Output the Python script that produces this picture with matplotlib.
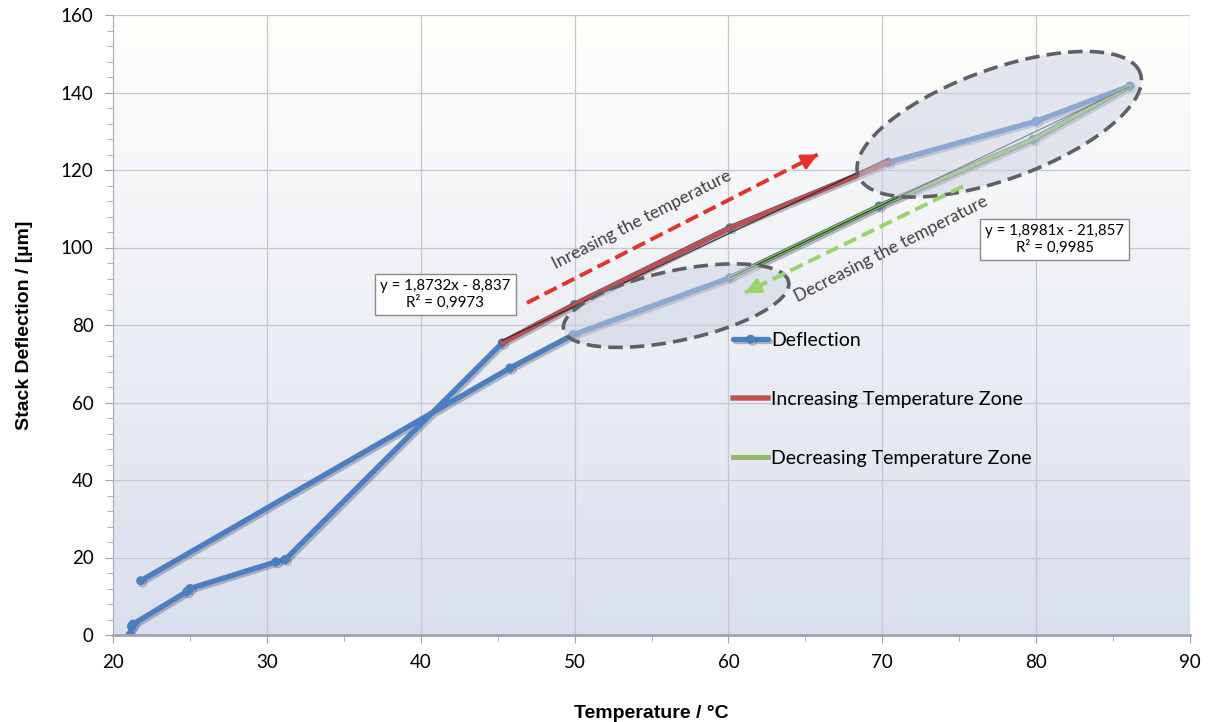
import numpy as np
import matplotlib
matplotlib.use("Agg")
import matplotlib.pyplot as plt
import matplotlib.patheffects as pe
from matplotlib.ticker import MultipleLocator

# ---------------- data ----------------
temp = [21.1, 21.2, 21.3, 24.8, 25.0, 30.6, 31.2, 45.3, 50.0, 60.1, 70.4,
        80.0, 86.1, 79.8, 69.8, 60.1, 49.9, 45.8, 21.8]
defl = [0.0, 2.2, 2.8, 11.2, 12.0, 18.9, 19.5, 75.4, 85.3, 105.1, 122.0,
        132.6, 141.7, 127.9, 110.7, 92.2, 77.5, 68.9, 14.0]

temp_inc = [45.3, 50.0, 60.1, 70.4]
defl_inc = [75.4, 85.3, 105.1, 122.0]
temp_dec = [86.1, 79.8, 69.8, 60.1]
defl_dec = [141.7, 127.9, 110.7, 92.2]

fit_inc = (1.8732, -8.837)
fit_dec = (1.8981, -21.857)
eq_inc = "y = 1,8732x - 8,837\nR² = 0,9973"
eq_dec = "y = 1,8981x - 21,857\nR² = 0,9985"

labels = ["Deflection", "Increasing Temperature Zone", "Decreasing Temperature Zone"]
xticks = [20, 30, 40, 50, 60, 70, 80, 90]
yticks = [0, 20, 40, 60, 80, 100, 120, 140, 160]

# ---------------- figure ----------------
fig = plt.figure(figsize=(12.1, 7.22), dpi=100)
ax = fig.add_axes([113/1210, 1-635/722, (1190-113)/1210, (635-15)/722])
ax.set_xlim(20, 90)
ax.set_ylim(0, 160)

# gradient background
grad = np.linspace(0, 1, 256).reshape(-1, 1)
c_top = np.array([1.0, 1.0, 0.985])
c_bot = np.array([0.855, 0.875, 0.935])
img = c_top[None, None, :] * (1 - grad[..., None]) + c_bot[None, None, :] * grad[..., None]
ax.imshow(img, extent=[0, 1, 0, 1], transform=ax.transAxes, aspect='auto', zorder=0)

ax.set_xticks(xticks)
ax.set_yticks(yticks)
ax.xaxis.set_minor_locator(MultipleLocator(5))
ax.yaxis.set_minor_locator(MultipleLocator(4))
ax.grid(True, which='major', color='#c4c6d0', lw=0.9, zorder=0.5)
ax.set_axisbelow(True)
for s in ['top', 'right']:
    ax.spines[s].set_visible(False)
ax.spines['left'].set_color('#a8aab8')
ax.spines['bottom'].set_color('#a0a3b3')
ax.spines['bottom'].set_linewidth(2)
ax.tick_params(which='both', direction='out', colors='#a0a3b3', labelcolor='black',
               labelsize=13.5)
ax.tick_params(which='major', length=6)
ax.tick_params(which='minor', length=4)
for lab in ax.get_xticklabels() + ax.get_yticklabels():
    lab.set_fontfamily('Lato')
ax.tick_params(axis='x', pad=8)
ax.tick_params(axis='y', pad=8)

ax.set_xlabel("Temperature / °C", fontsize=14, fontweight='bold',
              family='Liberation Sans', labelpad=24)
ax.set_ylabel("Stack Deflection / [µm]", fontsize=14, fontweight='bold',
              family='Liberation Sans', labelpad=20)

# ---------------- series ----------------
blue = '#4a7fc1'
shadow = [pe.SimpleLineShadow(offset=(1.5, -1.5), shadow_color='#303040', alpha=0.3), pe.Normal()]
ax.plot(temp, defl, color=blue, lw=3.8, marker='o', ms=5.5, mec=blue, mfc=blue,
        solid_capstyle='round', zorder=2, path_effects=shadow, label=labels[0])
ax.plot(temp_inc, defl_inc, color='#c0504d', lw=3.2, zorder=3, label=labels[1],
        path_effects=[pe.Stroke(linewidth=4, foreground='#7a2a2a', alpha=0.5), pe.Normal()])
ax.plot(temp_dec, defl_dec, color='#8fbf58', lw=2.6, zorder=3, label=labels[2],
        path_effects=[pe.Stroke(linewidth=3.4, foreground='#3d5a20', alpha=0.5), pe.Normal()])

xi = np.array([min(temp_inc), max(temp_inc)])
ax.plot(xi, fit_inc[0]*xi + fit_inc[1], color='#202020', lw=0.9, alpha=0.8, zorder=3.5)
xd = np.array([min(temp_dec), max(temp_dec)])
ax.plot(xd, fit_dec[0]*xd + fit_dec[1], color='#202020', lw=0.9, alpha=0.8, zorder=3.5)

# ---------------- ellipses (defined in pixel units) ----------------
p0 = ax.transData.transform((20, 0))
p1 = ax.transData.transform((90, 160))
sx = (p1[0]-p0[0]) / 70.0
sy = (p1[1]-p0[1]) / 160.0

def ellipse(cx, cy, a_px, b_px, ang_deg):
    t = np.linspace(0, 2*np.pi, 300)
    th = np.deg2rad(ang_deg)
    ex = a_px*np.cos(t)*np.cos(th) - b_px*np.sin(t)*np.sin(th)
    ey = a_px*np.cos(t)*np.sin(th) + b_px*np.sin(t)*np.cos(th)
    xs = cx + ex/sx
    ys = cy + ey/sy
    ax.fill(xs, ys, color='#cdd2e4', alpha=0.5, zorder=4, lw=0)
    ax.plot(xs, ys, color='#5f6066', lw=2.6, ls=(0, (4, 2)), zorder=4.2)

ellipse(77.6, 131.8, 150, 55, 20)
ellipse(56.6, 85.0, 115, 35, 12)

# ---------------- arrows ----------------
def dashed_arrow(tail, head, color):
    tail = np.array(tail); head = np.array(head)
    ax.plot([tail[0], head[0]], [tail[1], head[1]], color=color, lw=2.8,
            ls=(0, (3.5, 1.6)), zorder=5)
    d = head - tail
    back = head - d*0.04
    ax.annotate('', xy=head, xytext=back,
                arrowprops=dict(arrowstyle='-|>,head_length=0.9,head_width=0.45',
                                color=color, lw=2.5, shrinkA=0, shrinkB=0), zorder=5)

dashed_arrow((46.9, 85.7), (65.8, 124.0), '#e8302a')
dashed_arrow((75.25, 115.8), (61.07, 88.3), '#98d46a')

# ---------------- texts ----------------
ax.text(54.4, 107.2, "Inreasing the temperature", rotation=27, rotation_mode='anchor',
        ha='center', va='center', fontsize=12.5, family='Lato', color='#404040', zorder=6)
ax.text(70.6, 99.7, "Decreasing the temperature", rotation=27, rotation_mode='anchor',
        ha='center', va='center', fontsize=12.5, family='Lato', color='#404040', zorder=6)

box = dict(boxstyle='square,pad=0.35', fc='white', ec='#8a8a8a', lw=1)
ax.text(41.6, 87.9, eq_inc, ha='center', va='center', fontsize=10.8, family='Lato',
        linespacing=1.15, bbox=box, zorder=6)
ax.text(81.2, 102.1, eq_dec, ha='center', va='center', fontsize=10.8, family='Lato',
        linespacing=1.15, bbox=box, zorder=6)

# ---------------- legend ----------------
leg = ax.legend(loc='upper left', bbox_to_anchor=((733-113)/1077, (635-332)/620),
                frameon=False, prop={'family': 'Lato', 'size': 14},
                labelspacing=2.15, handlelength=1.8, handletextpad=0.15,
                borderaxespad=0, borderpad=0)
leg.set_zorder(7)

fig.savefig("out.png", dpi=100)
